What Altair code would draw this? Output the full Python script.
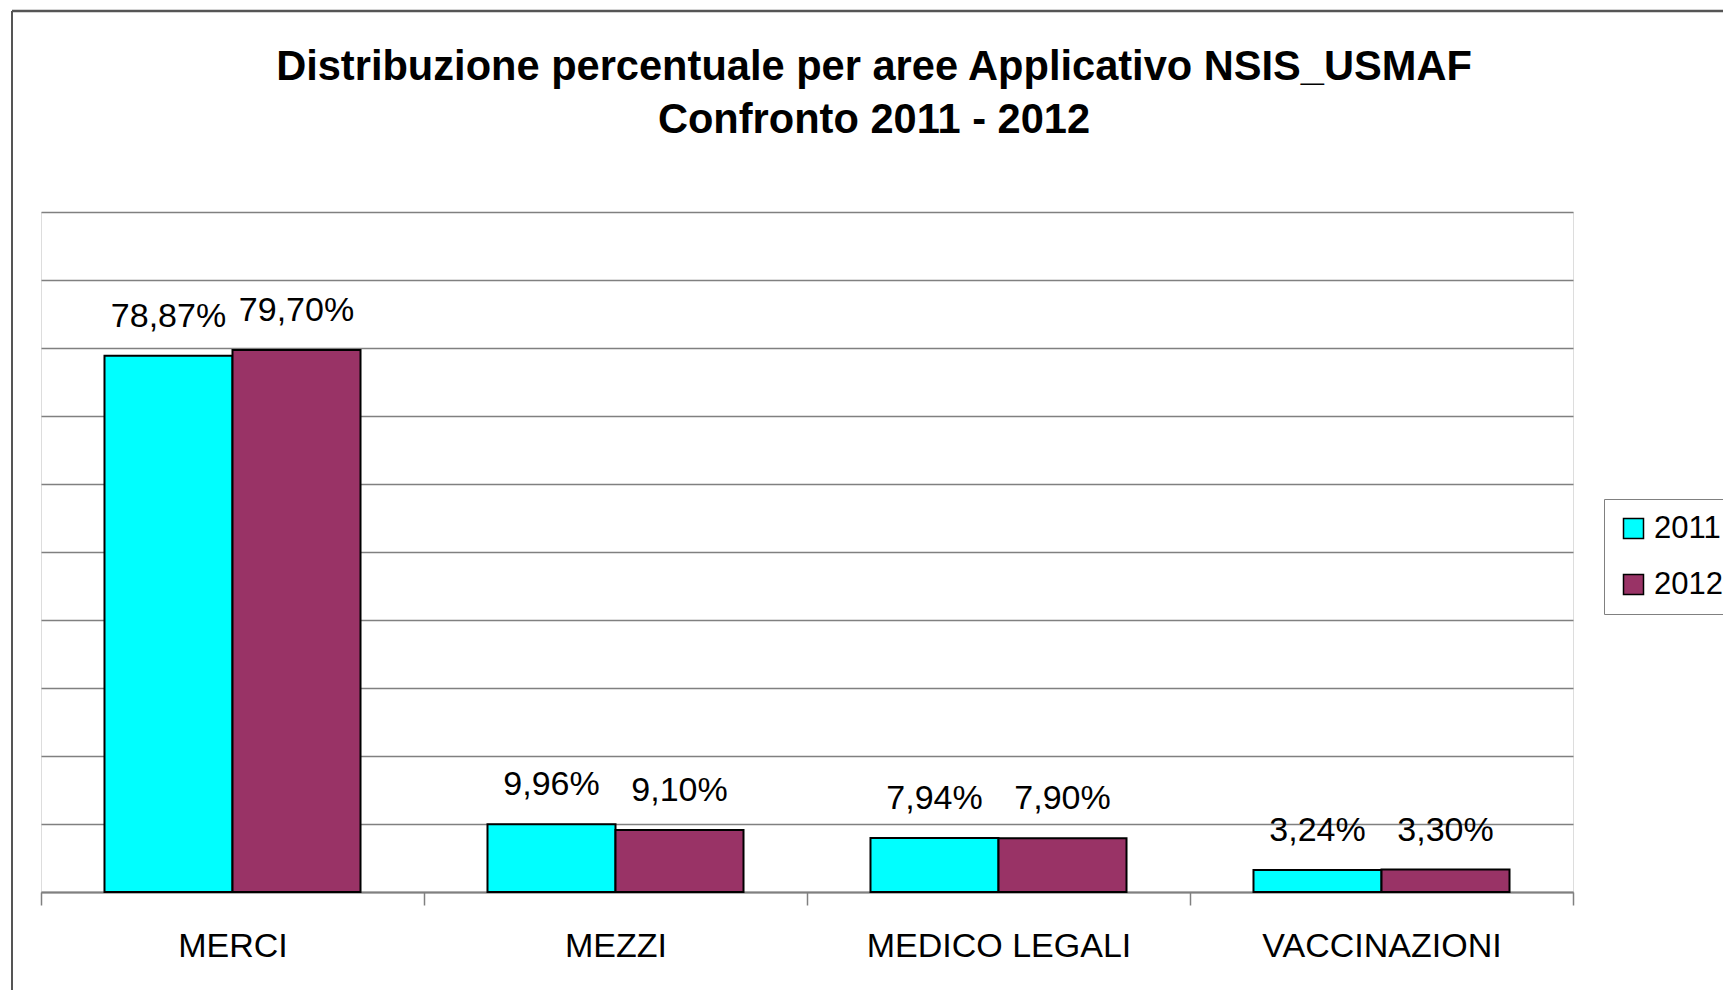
import altair as alt
import pandas as pd

categories = ["MERCI", "MEZZI", "MEDICO LEGALI", "VACCINAZIONI"]
years = ["2011", "2012"]
values_2011 = [78.87, 9.96, 7.94, 3.24]
values_2012 = [79.70, 9.10, 7.90, 3.30]
labels_2011 = ["78,87%", "9,96%", "7,94%", "3,24%"]
labels_2012 = ["79,70%", "9,10%", "7,90%", "3,30%"]
colors = ["#00FFFF", "#993366"]
grid_values = [0, 10, 20, 30, 40, 50, 60, 70, 80, 90, 100]

rows = []
for i, c in enumerate(categories):
    rows.append({"area": c, "anno": "2011", "valore": values_2011[i], "etichetta": labels_2011[i]})
    rows.append({"area": c, "anno": "2012", "valore": values_2012[i], "etichetta": labels_2012[i]})
df = pd.DataFrame(rows)

FONT = "Liberation Sans"
W, H = 1532, 680

base = alt.Chart(df).encode(
    x=alt.X(
        "area:N",
        sort=categories,
        scale=alt.Scale(paddingInner=0, paddingOuter=0),
        axis=alt.Axis(
            title=None, labelAngle=0, tickBand="extent", ticks=True, tickSize=13,
            tickColor="#808080", tickWidth=1.5, domainColor="#808080", domainWidth=2,
            labelFontSize=34, labelFont=FONT, labelPadding=24, labelColor="black",
            labelLimit=0, grid=False,
        ),
    ),
    xOffset=alt.XOffset("anno:N", sort=years,
                        scale=alt.Scale(paddingInner=0, paddingOuter=0.496)),
)

bars = base.mark_bar(stroke="black", strokeWidth=2).encode(
    y=alt.Y(
        "valore:Q",
        scale=alt.Scale(domain=[0, 100], nice=False),
        axis=alt.Axis(title=None, labels=False, ticks=False, domain=False, grid=True,
                      values=grid_values, gridColor="#808080", gridWidth=1.5),
    ),
    color=alt.Color(
        "anno:N",
        scale=alt.Scale(domain=years, range=colors),
        legend=alt.Legend(
            title=None, orient="none", legendX=1563, legendY=287,
            fillColor="white", strokeColor="#808080", padding=14,
            symbolType="square", symbolSize=400, symbolStrokeColor="black",
            symbolStrokeWidth=1.5, symbolOpacity=1, labelFontSize=31, labelFont=FONT,
            labelColor="black", rowPadding=24, labelOffset=5,
        ),
    ),
)

text = base.mark_text(baseline="bottom", dy=-22, fontSize=34, font=FONT, color="black").encode(
    y=alt.Y("valore:Q"),
    text="etichetta:N",
)

frame_df = pd.DataFrame({"k": [0]})
frame_left = alt.Chart(frame_df).mark_rule(color="#555555", strokeWidth=2).encode(
    x=alt.value(-29), y=alt.value(-201), y2=alt.value(H + 98)
)
frame_top = alt.Chart(frame_df).mark_rule(color="#555555", strokeWidth=2.5).encode(
    x=alt.value(-29), x2=alt.value(W + 150), y=alt.value(-201)
)

chart = alt.layer(frame_left, frame_top, bars, text).properties(
    width=W,
    height=H,
    autosize=alt.AutoSizeParams(type="none"),
    padding={"left": 33, "top": 204, "right": 150, "bottom": 98},
    title=alt.Title(
        ["Distribuzione percentuale per aree Applicativo NSIS_USMAF", "Confronto 2011 - 2012"],
        fontSize=41.6, font=FONT, fontWeight="bold", anchor="middle", dx=67,
        lineHeight=53, offset=0, dy=132, color="black",
    ),
).configure_view(stroke="#808080", strokeWidth=1.5).configure(background="white")

chart.save("out.html", embed_options={"renderer": "svg", "actions": False})
